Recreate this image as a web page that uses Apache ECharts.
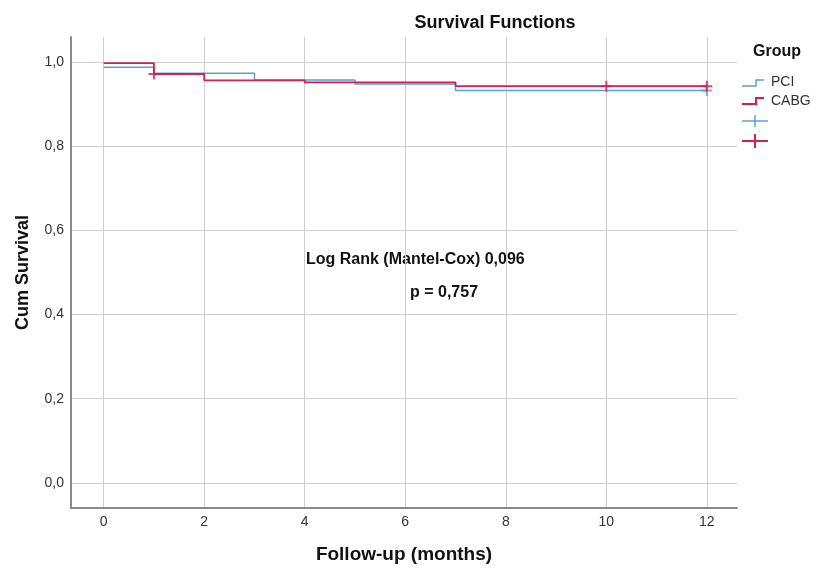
<!DOCTYPE html>
<html>
<head>
<meta charset="utf-8">
<script src="https://cdn.jsdelivr.net/npm/echarts@6/dist/echarts.min.js"></script>
<style>html,body{margin:0;padding:0;background:#fff}#c{width:816px;height:568px}</style>
</head>
<body>
<div id="c"></div>
<script>
// Data
const xTicks = [0, 2, 4, 6, 8, 10, 12];
const yTicks = [0, 0.2, 0.4, 0.6, 0.8, 1.0];
const pciTimes = [0, 1, 3, 5, 7, 12];
const pciSurv = [0.988, 0.974, 0.958, 0.948, 0.933, 0.933];
const cabgTimes = [0, 1, 2, 4, 7, 12];
const cabgSurv = [0.998, 0.972, 0.957, 0.952, 0.943, 0.943];
const pciCensorTimes = [12];
const pciCensorSurv = [0.933];
const cabgCensorTimes = [1, 10, 12];
const cabgCensorSurv = [0.972, 0.943, 0.943];

const BLUE = '#5aa3d6';
const RED = '#d2214c';
const FONT = '"Liberation Sans", Arial, sans-serif';
const zip = (a, b) => a.map((v, i) => [v, b[i]]);
const plus = 'path://M0,6 L12,6 M6,0 L6,12';

const chart = echarts.init(document.getElementById('c'), null, {renderer: 'canvas'});
chart.setOption({
  backgroundColor: '#fff',
  animation: false,
  textStyle: {fontFamily: FONT},
  title: {
    text: 'Survival Functions', left: 490, top: 9, textAlign: 'center',
    textStyle: {fontFamily: FONT, fontSize: 18, fontWeight: 'bold', color: '#111'}
  },
  grid: {left: 71, right: 79, top: 37, bottom: 60, outerBoundsMode: 'none', containLabel: false},
  xAxis: {
    type: 'value', min: -0.65, max: 12.6,
    name: 'Follow-up (months)', nameLocation: 'middle', nameGap: 37,
    nameTextStyle: {fontFamily: FONT, fontSize: 19, fontWeight: 'bold', color: '#111'},
    axisLine: {show: true, onZero: false, lineStyle: {color: '#8a8a8a', width: 2}},
    axisTick: {show: false, customValues: xTicks},
    axisLabel: {customValues: xTicks, color: '#333', fontSize: 14, margin: 7, formatter: v => String(v)},
    splitLine: {show: true, lineStyle: {color: '#cfcfcf', width: 1}}
  },
  yAxis: {
    type: 'value', min: -0.06, max: 1.06,
    name: 'Cum Survival', nameLocation: 'middle', nameGap: 39, nameRotate: 90,
    nameTextStyle: {fontFamily: FONT, fontSize: 18, fontWeight: 'bold', color: '#111'},
    axisLine: {show: true, onZero: false, lineStyle: {color: '#8a8a8a', width: 2}},
    axisTick: {show: false, customValues: yTicks},
    axisLabel: {customValues: yTicks, color: '#333', fontSize: 14, margin: 7,
      formatter: v => v.toFixed(1).replace('.', ',')},
    splitLine: {show: true, lineStyle: {color: '#cfcfcf', width: 1}}
  },
  series: [
    {name: 'PCI', type: 'line', step: 'end', data: zip(pciTimes, pciSurv), symbol: 'none',
      lineStyle: {color: BLUE, width: 1.5}, z: 3},
    {name: 'CABG', type: 'line', step: 'end', data: zip(cabgTimes, cabgSurv), symbol: 'none',
      lineStyle: {color: RED, width: 1.8}, z: 4},
    {name: 'PCI censored', type: 'scatter', data: zip(pciCensorTimes, pciCensorSurv),
      symbol: plus, symbolSize: 11, itemStyle: {color: 'none', borderColor: BLUE, borderWidth: 2}, z: 5},
    {name: 'CABG censored', type: 'scatter', data: zip(cabgCensorTimes, cabgCensorSurv),
      symbol: plus, symbolSize: 11, itemStyle: {color: 'none', borderColor: RED, borderWidth: 2}, z: 6}
  ],
  graphic: [
    {type: 'text', left: 306, top: 252, style: {text: 'Log Rank (Mantel-Cox) 0,096', font: 'bold 16px ' + FONT, fill: '#111'}},
    {type: 'text', left: 410, top: 285, style: {text: 'p = 0,757', font: 'bold 16px ' + FONT, fill: '#111'}},
    {type: 'text', left: 753, top: 44, style: {text: 'Group', font: 'bold 16px ' + FONT, fill: '#111'}},
    {type: 'polyline', shape: {points: [[742, 86], [756, 86], [756, 80], [764, 80]]}, style: {stroke: BLUE, lineWidth: 1.5, fill: null}},
    {type: 'text', left: 771, top: 75, style: {text: 'PCI', font: '14px ' + FONT, fill: '#333'}},
    {type: 'polyline', shape: {points: [[742, 104], [756, 104], [756, 98], [764, 98]]}, style: {stroke: RED, lineWidth: 2, fill: null}},
    {type: 'text', left: 771, top: 94, style: {text: 'CABG', font: '14px ' + FONT, fill: '#333'}},
    {type: 'line', shape: {x1: 742, y1: 121, x2: 768, y2: 121}, style: {stroke: BLUE, lineWidth: 1.5}},
    {type: 'line', shape: {x1: 755, y1: 115, x2: 755, y2: 127}, style: {stroke: BLUE, lineWidth: 1.5}},
    {type: 'line', shape: {x1: 742, y1: 141, x2: 768, y2: 141}, style: {stroke: RED, lineWidth: 2}},
    {type: 'line', shape: {x1: 755, y1: 134, x2: 755, y2: 148}, style: {stroke: RED, lineWidth: 2}}
  ]
});
</script>
</body>
</html>
